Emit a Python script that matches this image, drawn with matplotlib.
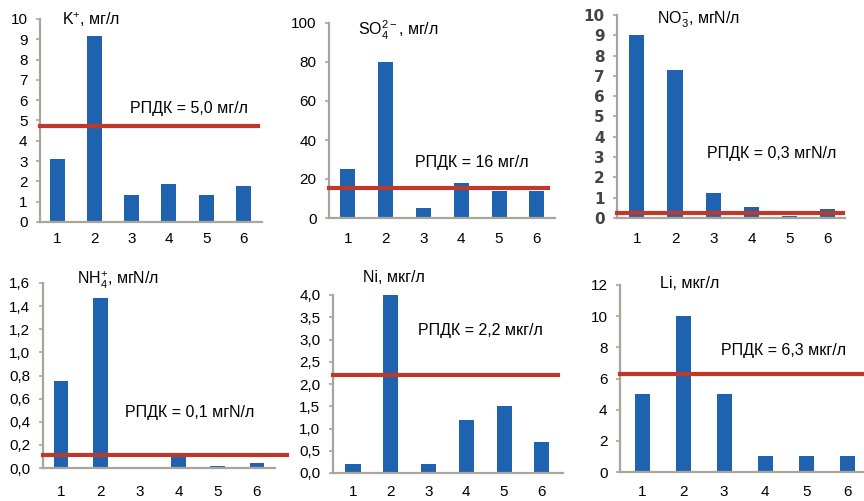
import numpy as np
import matplotlib
matplotlib.use("Agg")
import matplotlib.pyplot as plt

plt.rcParams["font.family"] = ["Liberation Sans", "DejaVu Sans"]
plt.rcParams["mathtext.fontset"] = "custom"
plt.rcParams["mathtext.rm"] = "Liberation Sans"
plt.rcParams["mathtext.it"] = "Liberation Sans"

stations = [1, 2, 3, 4, 5, 6]

k_vals = [3.1, 9.15, 1.35, 1.85, 1.35, 1.75]
so4_vals = [25, 80, 5, 18, 14, 14]
no3_vals = [9.0, 7.3, 1.25, 0.55, 0.1, 0.45]
nh4_vals = [0.75, 1.47, 0.01, 0.1, 0.015, 0.04]
ni_vals = [0.2, 4.0, 0.2, 1.2, 1.5, 0.7]
li_vals = [5, 10, 5, 1, 1, 1]

# drawn positions of the РПДК lines
limits = [4.75, 15.5, 0.25, 0.11, 2.2, 6.3]

titles = [r"K$^{+}$, мг/л", r"SO$_4^{2-}$, мг/л", r"NO$_3^{-}$, мгN/л",
          r"NH$_4^{+}$, мгN/л", "Ni, мкг/л", "Li, мкг/л"]
limit_labels = ["РПДК = 5,0 мг/л", "РПДК = 16 мг/л", "РПДК = 0,3 мгN/л",
                "РПДК = 0,1 мгN/л", "РПДК = 2,2 мкг/л", "РПДК = 6,3 мкг/л"]

k_ticks = [0, 1, 2, 3, 4, 5, 6, 7, 8, 9, 10]
so4_ticks = [0, 20, 40, 60, 80, 100]
no3_ticks = [0, 1, 2, 3, 4, 5, 6, 7, 8, 9, 10]
nh4_ticks = [0, 0.2, 0.4, 0.6, 0.8, 1.0, 1.2, 1.4, 1.6]
ni_ticks = [0, 0.5, 1.0, 1.5, 2.0, 2.5, 3.0, 3.5, 4.0]
li_ticks = [0, 2, 4, 6, 8, 10, 12]

W, H = 864, 501
fig = plt.figure(figsize=(W / 100, H / 100), dpi=100)

BLUE = "#1f63b0"
RED = "#bd3a2a"
AXC = "#aaa59b"


def px_axes(l, t, r, b):
    return fig.add_axes([l / W, 1 - b / H, (r - l) / W, (b - t) / H])


def fig_text(x, y, s, **kw):
    fig.text(x / W, 1 - y / H, s, va="center", ha="left", **kw)


# (left, top, right, bottom) in px, xlim, bar width, line xmax, x label pad
panels = [
    (k_vals, k_ticks, None, (40, 19, 262, 222), (0.54, 6.5), 0.4, 0.98, 7,
     (62, 20), (130, 108)),
    (so4_vals, so4_ticks, None, (329, 23, 555, 218), (0.5, 6.48), 0.4, 0.97, 10,
     (358, 30), (415, 163)),
    (no3_vals, no3_ticks, None, (617, 15, 845, 218), (0.48, 6.45), 0.4, 0.99, 10,
     (657, 20), (707, 153)),
    (nh4_vals, nh4_ticks, ["0,0", "0,2", "0,4", "0,6", "0,8", "1,0", "1,2", "1,4", "1,6"],
     (43, 283, 275, 468), (0.54, 6.46), 0.38, 1.05, 12, (77, 280), (125, 413)),
    (ni_vals, ni_ticks, ["0,0", "0,5", "1,0", "1,5", "2,0", "2,5", "3,0", "3,5", "4,0"],
     (333, 295, 563, 473), (0.47, 6.56), 0.4, 0.98, 9, (363, 277), (418, 330)),
    (li_vals, li_ticks, None, (620, 285, 864, 472), (0.46, 6.41), 0.37, 0.99, 9,
     (660, 283), (721, 350)),
]

for i, (vals, ticks, tlabels, box, xl, bw, lx, xpad, tpos, lpos) in enumerate(panels):
    ax = px_axes(*box)
    ax.bar(stations, vals, width=bw, color=BLUE, zorder=2)
    ax.axhline(limits[i], xmin=0, xmax=lx, color=RED, lw=3, zorder=3, clip_on=False)
    ax.set_xlim(*xl)
    ax.set_ylim(0, ticks[-1])
    ax.set_xticks(stations)
    ax.set_yticks(ticks)
    if tlabels:
        ax.set_yticklabels(tlabels)
    for s in ["top", "right"]:
        ax.spines[s].set_visible(False)
    for s in ["left", "bottom"]:
        ax.spines[s].set_color(AXC)
        ax.spines[s].set_linewidth(1.6)
    ax.tick_params(axis="y", length=3, width=1.2, color=AXC, pad=6, labelsize=11)
    ax.tick_params(axis="x", length=0, pad=xpad, labelsize=11)
    if i == 2:
        for lab in ax.get_yticklabels():
            lab.set_fontfamily("DejaVu Sans")
            lab.set_fontweight("bold")
            lab.set_color("#444444")
    fig_text(tpos[0], tpos[1], titles[i], fontsize=11.5)
    fig_text(lpos[0], lpos[1], limit_labels[i], fontsize=11.5)

fig.savefig("out.png", dpi=100)
